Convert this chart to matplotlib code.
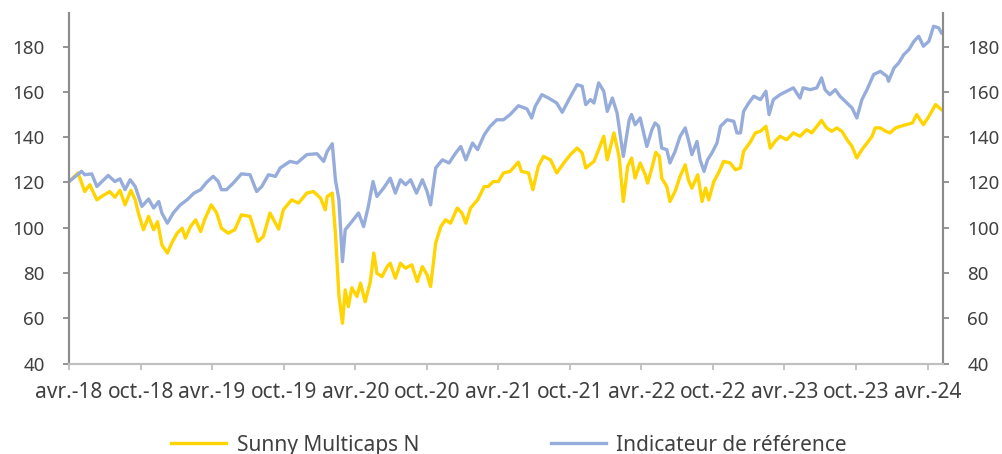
import pandas as pd
import matplotlib.pyplot as plt

# Sunny Multicaps N vs benchmark, base 120 in Apr 2018
fund_dates = [
    "2018-04-18", "2018-05-11", "2018-05-28", "2018-06-10", "2018-06-28", "2018-07-10", "2018-07-31",
    "2018-08-13", "2018-08-26", "2018-09-08", "2018-09-23", "2018-10-04", "2018-10-12", "2018-10-25",
    "2018-11-07", "2018-11-20", "2018-11-30", "2018-12-11", "2018-12-25", "2019-01-05", "2019-01-19",
    "2019-02-01", "2019-02-09", "2019-02-22", "2019-03-07", "2019-03-20", "2019-03-30", "2019-04-16",
    "2019-04-30", "2019-05-12", "2019-05-29", "2019-06-15", "2019-07-02", "2019-07-24", "2019-08-13",
    "2019-08-27", "2019-09-13", "2019-10-05", "2019-10-17", "2019-11-07", "2019-11-25", "2019-12-16",
    "2020-01-02", "2020-01-20", "2020-02-01", "2020-02-06", "2020-02-19", "2020-02-27", "2020-03-07",
    "2020-03-16", "2020-03-23", "2020-03-31", "2020-04-09", "2020-04-22", "2020-05-01", "2020-05-13",
    "2020-05-26", "2020-06-04", "2020-06-12", "2020-06-25", "2020-07-08", "2020-07-16", "2020-07-29",
    "2020-08-11", "2020-08-24", "2020-09-09", "2020-09-23", "2020-10-06", "2020-10-18", "2020-10-27",
    "2020-11-09", "2020-11-22", "2020-12-04", "2020-12-17", "2021-01-03", "2021-01-15", "2021-01-25",
    "2021-02-06", "2021-02-24", "2021-03-13", "2021-03-23", "2021-04-05", "2021-04-18", "2021-05-01",
    "2021-05-18", "2021-06-08", "2021-06-16", "2021-07-04", "2021-07-15", "2021-07-29", "2021-08-11",
    "2021-08-29", "2021-09-14", "2021-10-02", "2021-10-19", "2021-11-05", "2021-11-18", "2021-11-27",
    "2021-12-18", "2021-12-30", "2022-01-12", "2022-01-21", "2022-02-07", "2022-02-20", "2022-03-03",
    "2022-03-14", "2022-03-24", "2022-04-02", "2022-04-15", "2022-04-28", "2022-05-04", "2022-05-15",
    "2022-05-25", "2022-06-03", "2022-06-09", "2022-06-22", "2022-06-30", "2022-07-13", "2022-07-26",
    "2022-08-08", "2022-08-16", "2022-08-25", "2022-09-09", "2022-09-20", "2022-09-29", "2022-10-07",
    "2022-10-20", "2022-11-01", "2022-11-14", "2022-12-01", "2022-12-14", "2022-12-27", "2023-01-04",
    "2023-01-22", "2023-02-03", "2023-02-16", "2023-03-02", "2023-03-13", "2023-03-25", "2023-04-07",
    "2023-04-24", "2023-05-11", "2023-05-28", "2023-06-14", "2023-06-27", "2023-07-10", "2023-07-22",
    "2023-08-04", "2023-08-17", "2023-08-30", "2023-09-12", "2023-09-25", "2023-10-08", "2023-10-20",
    "2023-11-02", "2023-11-15", "2023-11-28", "2023-12-06", "2023-12-19", "2024-01-02", "2024-01-13",
    "2024-01-27", "2024-02-08", "2024-02-22", "2024-03-10", "2024-03-21", "2024-04-07", "2024-04-21",
    "2024-05-08", "2024-05-23",
]
fund_values = [
    120.4, 124.2, 116.0, 119.0, 112.3, 113.8, 116.0,
    113.5, 116.5, 110.1, 116.5, 112.3, 106.5, 99.1,
    105.0, 99.1, 102.7, 92.4, 88.8, 93.2, 97.6,
    99.8, 95.4, 100.5, 103.5, 98.3, 103.5, 110.1,
    106.5, 99.8, 97.6, 99.1, 105.7, 105.0, 93.9,
    96.1, 106.5, 99.4, 107.9, 112.3, 110.9, 115.3,
    116.0, 113.1, 107.9, 113.8, 115.3, 97.6, 70.0,
    57.8, 72.5, 65.1, 73.5, 69.6, 75.5, 67.3,
    76.0, 88.8, 79.9, 78.4, 82.8, 84.3, 77.7,
    84.3, 82.1, 83.6, 76.2, 82.8, 79.2, 74.0,
    93.2, 100.5, 103.5, 102.0, 108.7, 106.5, 102.0,
    108.7, 112.3, 118.2, 118.2, 120.4, 120.4, 124.2,
    124.9, 129.0, 124.9, 124.2, 116.8, 127.1, 131.5,
    130.0, 124.2, 128.6, 132.3, 135.2, 133.0, 126.4,
    129.3, 134.5, 140.4, 130.0, 141.9, 131.5, 111.6,
    127.1, 130.8, 121.9, 128.6, 123.4, 119.7, 126.4,
    133.3, 131.5, 121.9, 118.2, 111.6, 116.0, 122.7,
    127.8, 121.2, 117.5, 123.4, 111.6, 117.5, 112.3,
    120.4, 124.2, 129.3, 128.6, 125.6, 126.4, 133.7,
    138.1, 141.9, 142.6, 144.8, 135.2, 138.1, 140.4,
    138.9, 141.9, 140.4, 143.3, 141.9, 144.8, 147.4,
    144.1, 142.6, 144.1, 142.6, 138.9, 135.9, 130.8,
    134.5, 137.4, 140.4, 144.1, 144.1, 142.6, 141.9,
    144.1, 144.8, 145.5, 146.3, 150.0, 145.5, 149.2,
    154.4, 152.2,
]

ref_dates = [
    "2018-04-18", "2018-05-20", "2018-05-28", "2018-06-15", "2018-06-28", "2018-07-27", "2018-08-13",
    "2018-08-26", "2018-09-08", "2018-09-21", "2018-10-04", "2018-10-21", "2018-11-07", "2018-11-20",
    "2018-12-03", "2018-12-11", "2018-12-25", "2019-01-09", "2019-01-27", "2019-02-13", "2019-03-03",
    "2019-03-20", "2019-04-04", "2019-04-21", "2019-05-04", "2019-05-12", "2019-05-25", "2019-06-11",
    "2019-07-02", "2019-07-24", "2019-08-10", "2019-08-23", "2019-09-09", "2019-09-27", "2019-10-09",
    "2019-11-03", "2019-11-21", "2019-12-16", "2020-01-11", "2020-01-28", "2020-02-06", "2020-02-19",
    "2020-02-27", "2020-03-07", "2020-03-16", "2020-03-23", "2020-04-09", "2020-04-26", "2020-05-09",
    "2020-05-21", "2020-06-02", "2020-06-12", "2020-06-29", "2020-07-16", "2020-07-29", "2020-08-11",
    "2020-08-24", "2020-09-06", "2020-09-21", "2020-10-06", "2020-10-18", "2020-10-27", "2020-11-09",
    "2020-11-26", "2020-12-13", "2020-12-30", "2021-01-12", "2021-01-25", "2021-02-11", "2021-02-24",
    "2021-03-13", "2021-03-28", "2021-04-14", "2021-05-01", "2021-05-18", "2021-06-08", "2021-06-30",
    "2021-07-12", "2021-07-21", "2021-08-07", "2021-08-24", "2021-09-14", "2021-09-28", "2021-10-15",
    "2021-11-05", "2021-11-18", "2021-11-27", "2021-12-09", "2021-12-18", "2021-12-30", "2022-01-12",
    "2022-01-21", "2022-02-03", "2022-02-15", "2022-03-03", "2022-03-18", "2022-03-24", "2022-04-02",
    "2022-04-15", "2022-05-02", "2022-05-15", "2022-05-23", "2022-06-01", "2022-06-09", "2022-06-22",
    "2022-06-30", "2022-07-13", "2022-07-26", "2022-08-08", "2022-08-16", "2022-08-25", "2022-09-07",
    "2022-09-15", "2022-09-25", "2022-10-04", "2022-10-15", "2022-10-28", "2022-11-06", "2022-11-23",
    "2022-12-10", "2022-12-18", "2022-12-27", "2023-01-04", "2023-01-17", "2023-01-30", "2023-02-16",
    "2023-03-02", "2023-03-10", "2023-03-21", "2023-04-07", "2023-04-24", "2023-05-11", "2023-05-28",
    "2023-06-05", "2023-06-23", "2023-07-10", "2023-07-22", "2023-07-31", "2023-08-12", "2023-08-26",
    "2023-09-07", "2023-09-25", "2023-10-08", "2023-10-20", "2023-11-02", "2023-11-15", "2023-12-02",
    "2023-12-19", "2024-01-05", "2024-01-09", "2024-01-23", "2024-02-04", "2024-02-17", "2024-03-01",
    "2024-03-14", "2024-03-26", "2024-04-07", "2024-04-21", "2024-05-03", "2024-05-16", "2024-05-23",
]
ref_values = [
    120.4, 124.9, 123.4, 123.8, 118.2, 123.1, 120.4,
    121.6, 116.8, 121.2, 118.2, 109.4, 112.7, 108.7,
    111.6, 106.5, 102.0, 106.5, 110.1, 112.3, 115.3,
    116.8, 120.0, 122.7, 120.4, 116.8, 116.8, 119.7,
    123.8, 123.4, 116.0, 118.2, 123.4, 122.7, 126.4,
    129.3, 128.6, 132.3, 132.7, 129.3, 133.7, 137.1,
    121.2, 112.3, 85.0, 99.1, 102.7, 106.5, 100.5,
    109.4, 120.4, 113.8, 117.5, 121.9, 115.3, 121.2,
    119.0, 121.2, 115.3, 121.2, 116.0, 110.1, 126.4,
    130.0, 128.6, 133.0, 135.9, 130.0, 137.4, 134.5,
    141.1, 144.8, 147.7, 147.7, 150.0, 153.9, 152.5,
    148.5, 153.6, 158.8, 157.3, 155.1, 151.0, 156.6,
    163.2, 162.5, 154.4, 156.6, 155.1, 164.0, 160.3,
    151.4, 157.3, 150.7, 131.5, 147.7, 150.0, 145.5,
    148.5, 135.9, 143.3, 146.3, 144.8, 135.2, 134.5,
    128.6, 133.7, 140.4, 144.1, 138.9, 132.3, 138.1,
    130.0, 124.9, 130.0, 133.0, 137.4, 144.8, 147.7,
    147.0, 141.9, 141.9, 151.4, 155.1, 158.1, 156.6,
    160.3, 150.0, 156.6, 158.8, 160.3, 161.8, 157.3,
    161.8, 161.0, 161.8, 166.2, 161.0, 158.8, 161.0,
    158.1, 155.1, 152.9, 148.5, 156.6, 161.0, 167.7,
    169.1, 166.9, 164.7, 170.6, 172.8, 176.5, 178.7,
    182.4, 184.6, 180.2, 182.4, 189.0, 188.3, 186.1,
]

series_names = ["Sunny Multicaps N", "Indicateur de référence"]
tick_labels = ["avr.-18", "oct.-18", "avr.-19", "oct.-19", "avr.-20", "oct.-20", "avr.-21",
               "oct.-21", "avr.-22", "oct.-22", "avr.-23", "oct.-23", "avr.-24"]
y_ticks = [40, 60, 80, 100, 120, 140, 160, 180]

plt.rcParams['font.family'] = ['Noto Sans', 'DejaVu Sans']
plt.rcParams['font.size'] = 15

fund_x = pd.to_datetime(fund_dates)
ref_x = pd.to_datetime(ref_dates)
start = pd.Timestamp("2018-04-18")
tick_pos = [start + pd.DateOffset(months=6 * i) for i in range(len(tick_labels))]

fig = plt.figure(figsize=(10.02, 4.54), dpi=100)
ax = fig.add_axes([0.0689, 0.1993, 0.8722, 0.7727])

ax.plot(fund_x, fund_values, color='#FFD400', lw=2.4, label=series_names[0])
ax.plot(ref_x, ref_values, color='#96ACDB', lw=2.4, label=series_names[1])

ax.set_xlim(start, pd.Timestamp("2024-05-27"))
ax.set_ylim(40, 195)
ax.set_xticks(tick_pos)
ax.set_xticklabels(tick_labels)
ax.set_yticks(y_ticks)

# second y axis, same scale
ax2 = ax.twinx()
ax2.set_ylim(ax.get_ylim())
ax2.set_yticks(y_ticks)

for a in (ax, ax2):
    a.spines['top'].set_visible(False)
    a.spines['left'].set_color('#8C8C8C')
    a.spines['right'].set_color('#8C8C8C')
    a.spines['bottom'].set_color('#BFBFBF')
    for s in a.spines.values():
        s.set_linewidth(1.5)
    a.tick_params(axis='y', colors='#8C8C8C', labelcolor='#404040', length=4.5, width=1.3,
                  labelsize=13.5, pad=13)
    a.tick_params(axis='x', colors='#BFBFBF', labelcolor='#404040', length=4.5, width=1.3)
ax.tick_params(axis='x', pad=9)

fig.legend(loc='lower center', bbox_to_anchor=(0.508, -0.045), ncol=2, frameon=False,
           handlelength=2.65, columnspacing=6.3, handletextpad=0.5, fontsize=15,
           labelcolor='#404040')

fig.savefig('out.png', dpi=100)
